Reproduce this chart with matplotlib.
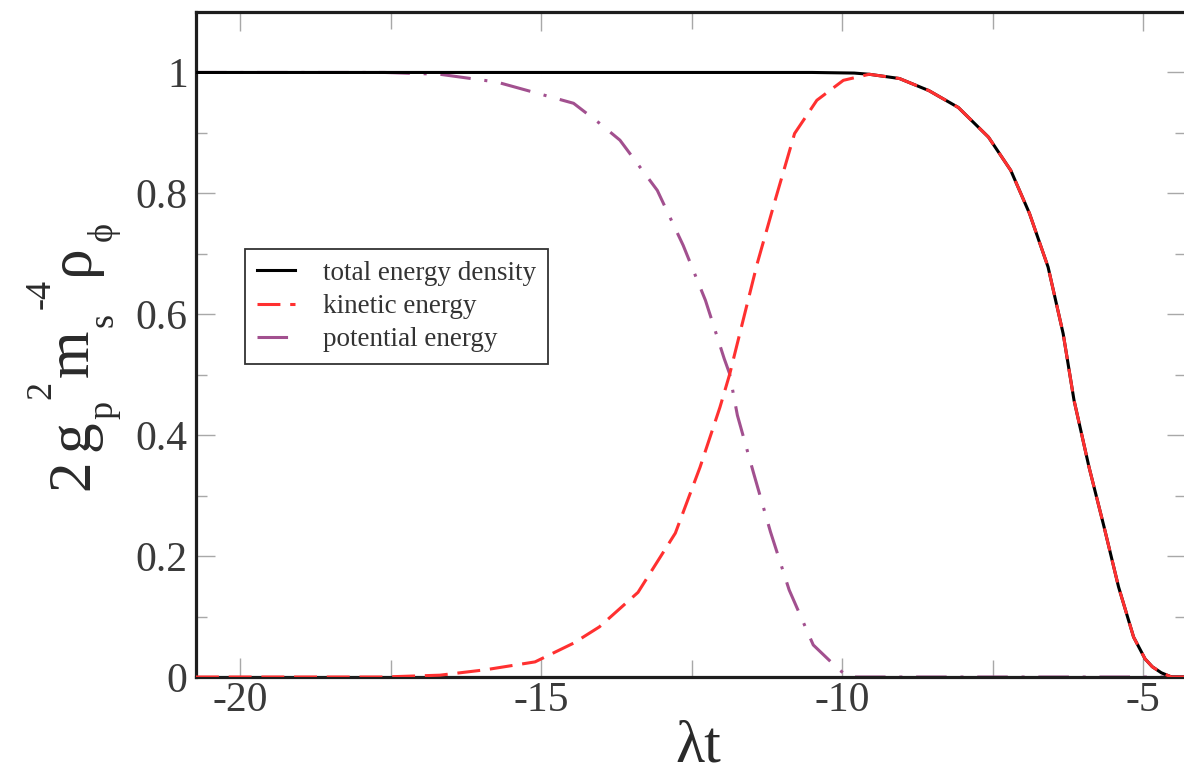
import matplotlib
matplotlib.use("Agg")
import matplotlib.pyplot as plt
from matplotlib.ticker import MultipleLocator, FuncFormatter

plt.rcParams['font.family'] = ['Liberation Serif', 'DejaVu Serif']
plt.rcParams['axes.unicode_minus'] = False

# ---- data ----
t_total = [-20.73, -10.5, -9.8, -9.55, -9.05, -8.56, -8.07, -7.57, -7.20, -6.89,
           -6.58, -6.33, -6.15, -5.90, -5.65, -5.41, -5.16, -4.97, -4.85, -4.70,
           -4.53, -4.29]
total = [1.0, 1.0, 0.999, 0.997, 0.990, 0.970, 0.942, 0.893, 0.838, 0.767,
         0.678, 0.568, 0.458, 0.347, 0.248, 0.149, 0.066, 0.030, 0.017, 0.007,
         0.0, 0.0]

t_kin = [-20.73, -17.63, -16.68, -15.92, -15.10, -14.46, -14.03, -13.39, -12.77,
         -12.36, -12.03, -11.87, -11.41, -11.10, -10.79, -10.42, -9.98, -9.55,
         -9.05, -8.56, -8.07, -7.57, -7.20, -6.89, -6.58, -6.33, -6.15, -5.90,
         -5.65, -5.41, -5.16, -4.97, -4.85, -4.70, -4.53, -4.29]
kinetic = [0.0, 0.0, 0.003, 0.012, 0.025, 0.056, 0.083, 0.140, 0.238,
           0.347, 0.446, 0.500, 0.684, 0.793, 0.899, 0.954, 0.987, 0.997,
           0.990, 0.970, 0.942, 0.893, 0.838, 0.767, 0.678, 0.568, 0.458, 0.347,
           0.248, 0.149, 0.066, 0.030, 0.017, 0.007, 0.0, 0.0]

t_pot = [-20.73, -17.60, -16.68, -15.73, -14.46, -14.03, -13.69, -13.07, -12.64,
         -12.27, -11.96, -11.87, -11.74, -11.47, -11.19, -10.88, -10.48, -10.05,
         -9.89, -4.29]
potential = [1.0, 1.0, 0.997, 0.984, 0.949, 0.916, 0.888, 0.805, 0.714,
             0.623, 0.527, 0.502, 0.433, 0.337, 0.240, 0.144, 0.053, 0.012,
             0.0, 0.0]

labels = ['total energy density', 'kinetic energy', 'potential energy']
x_ticks = [-20, -15, -10, -5]
y_ticks = [0, 0.2, 0.4, 0.6, 0.8, 1.0]

# y-axis label pieces: (text, role)  role: main / sub / sup
ylabel_pieces = [('2', 'main'), ('g', 'main'), ('p', 'sub'), ('2', 'sup'),
                 ('m', 'main'), ('s', 'sub'), ('-4', 'sup'), ('ρ', 'main'),
                 ('ϕ', 'sub')]
# lower end (pixel row from top) where each piece starts
ylabel_starts = [490, 451, 419, 399, 377, 327, 309, 275, 241]

W, H = 1184, 775

# ---- figure ----
fig = plt.figure(figsize=(W/100, H/100), dpi=100)
ax = fig.add_axes([196/W, 98/H, 990/W, 665/H])

ax.plot(t_pot, potential, color='#a2508f', lw=2.2, linestyle=(0, (10, 4.5, 1, 4.5)),
        label=labels[2], zorder=2)
ax.plot(t_total, total, color='black', lw=2.2, label=labels[0], zorder=3)
ax.plot(t_kin, kinetic, color='#ff3030', lw=2.2, linestyle=(0, (7.5, 3.2)),
        label=labels[1], zorder=4)

ax.set_xlim(-20.73, -4.29)
ax.set_ylim(0, 1.1)
ax.set_xticks(x_ticks)
ax.set_yticks(y_ticks)
ax.xaxis.set_minor_locator(MultipleLocator(2.5))
ax.yaxis.set_minor_locator(MultipleLocator(0.1))
ax.yaxis.set_major_formatter(FuncFormatter(lambda v, p: '%g' % v))
ax.xaxis.set_major_formatter(FuncFormatter(lambda v, p: '%g' % v))

for s in ax.spines.values():
    s.set_color('#1e1e1e')
    s.set_linewidth(2.3)

ax.tick_params(which='both', direction='in', top=True, right=True,
               color='#a8a8a8', width=1.0, labelcolor='#3a3a3a', labelsize=30)
ax.tick_params(which='major', length=14)
ax.tick_params(which='minor', length=8)
ax.tick_params(axis='x', which='minor', length=12)
ax.tick_params(axis='x', pad=3)
ax.tick_params(axis='y', pad=6)

# y label built from pieces (rotated), positions in figure pixels
base_x = {'main': 88, 'sub': 112, 'sup': 50}
size = {'main': 44, 'sub': 26, 'sup': 26}
for (txt, role), ystart in zip(ylabel_pieces, ylabel_starts):
    fig.text(base_x[role]/W, 1 - ystart/H, txt, rotation=90, rotation_mode='anchor',
             ha='left', va='baseline', fontsize=size[role], color='#2a2a2a')

fig.text(698/W, 1/H, 'λt', ha='center', va='bottom', fontsize=43, color='#2a2a2a')

leg = ax.legend(handles=[ax.lines[1], ax.lines[2], ax.lines[0]],
                loc='upper left', bbox_to_anchor=(0.049, 0.644), frameon=True,
                fancybox=False, edgecolor='#333333', framealpha=1, fontsize=19.5,
                handlelength=1.4, handletextpad=1.05, labelspacing=0.3,
                borderpad=0.45, borderaxespad=0)
leg.get_frame().set_linewidth(1.3)
for txt in leg.get_texts():
    txt.set_color('#333333')

fig.savefig('out.png', dpi=100)
